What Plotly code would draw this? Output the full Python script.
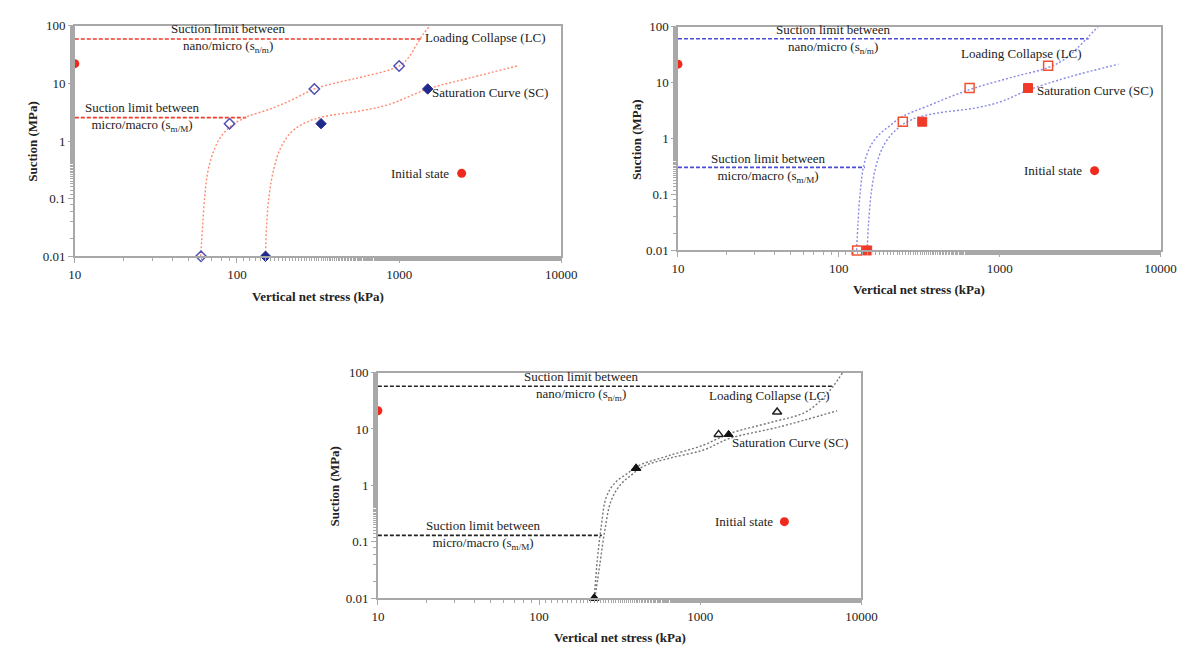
import plotly.graph_objects as go

# ---------------- data: panel A (diamonds) ----------------
a_lc_x = [60, 90, 300, 1000]
a_lc_y = [0.01, 2, 8, 20]
a_sc_x = [150, 330, 1500]
a_sc_y = [0.01, 2, 8]
a_lc_curve_x = [59.7, 61.3, 63.4, 66.1, 71.4, 79.1, 92.2, 116, 158, 216, 300, 444, 604, 1000, 1151, 1274, 1412, 1549]
a_lc_curve_y = [0.01, 0.0317, 0.117, 0.294, 0.644, 1.16, 1.84, 2.65, 3.54, 5.1, 8, 10.8, 13.1, 20, 28.8, 45.6, 72, 100]
a_sc_curve_x = [150, 152, 158, 169, 185, 216, 265, 343, 574, 867, 1500, 2693, 5383]
a_sc_curve_y = [0.01, 0.0317, 0.117, 0.335, 0.734, 1.42, 2.09, 2.65, 3.32, 4.31, 8, 12.3, 20.2]
a_nm_x = [10, 1380]
a_nm_y = [59, 59]
a_mM_x = [10, 114]
a_mM_y = [2.55, 2.55]
a_init_x = [10, 2430]
a_init_y = [22, 0.275]

# ---------------- data: panel B (squares) ----------------
b_lc_x = [130, 250, 650, 2000]
b_lc_y = [0.01, 2, 8, 20]
b_sc_x = [150, 330, 1500]
b_sc_y = [0.01, 2, 8]
b_lc_curve_x = [129, 131.5, 136, 143, 156, 175, 206, 250, 351, 650, 1197, 2010, 2529, 3126, 3573, 4085]
b_lc_curve_y = [0.01, 0.030, 0.115, 0.336, 0.70, 1.12, 1.67, 2.5, 3.75, 7.5, 12.5, 18.7, 26.2, 44.8, 66.9, 100]
b_sc_curve_x = [150, 153, 159.5, 171, 190, 223, 284, 412, 703, 1020, 1500, 2667, 5479]
b_sc_curve_y = [0.01, 0.030, 0.115, 0.336, 0.75, 1.37, 2.19, 2.86, 3.51, 4.58, 7.33, 12.5, 21.4]
b_nm_x = [10, 3570]
b_nm_y = [61, 61]
b_mM_x = [10, 145]
b_mM_y = [0.305, 0.305]
b_init_x = [10, 3890]
b_init_y = [21.4, 0.267]

# ---------------- data: panel C (triangles) ----------------
c_lc_x = [220, 400, 1300, 3000]
c_lc_y = [0.01, 2, 8, 20]
c_sc_x = [220, 400, 1500]
c_sc_y = [0.01, 2, 8]
c_lc_curve_x = [220, 230, 243, 261, 296, 357, 404, 611, 1047, 1510, 2754, 4466, 5686, 6686, 7656]
c_lc_curve_y = [0.01, 0.0483, 0.184, 0.61, 1.11, 1.66, 2.17, 3.24, 5.17, 8.24, 13.1, 19.6, 33.5, 57, 100]
c_sc_curve_x = [222, 239, 256, 280, 321, 377, 443, 645, 1047, 1510, 3070, 7063]
c_sc_curve_y = [0.01, 0.042, 0.161, 0.535, 1.04, 1.55, 2.17, 3.03, 4.23, 6.74, 10.8, 21]
c_nm_x = [10, 6690]
c_nm_y = [57, 57]
c_mM_x = [10, 245]
c_mM_y = [0.13, 0.13]
c_init_x = [10, 3330]
c_init_y = [21, 0.227]

x_tickvals = [10, 100, 1000, 10000]
x_ticktext = ["10", "100", "1000", "10000"]
y_tickvals = [0.01, 0.1, 1, 10, 100]
y_ticktext = ["0.01", "0.1", "1", "10", "100"]

FONT = "Liberation Serif, Times New Roman, serif"
RED = "#ee2a1e"

fig = go.Figure()


def add_panel(k, lc_x, lc_y, sc_x, sc_y, lcc_x, lcc_y, scc_x, scc_y,
              nm_x, nm_y, mM_x, mM_y, init_x, init_y,
              limit_color, curve_color, open_sym, fill_sym, open_col, fill_col, msize):
    xa = "x" if k == 1 else f"x{k}"
    ya = "y" if k == 1 else f"y{k}"
    common = dict(xaxis=xa, yaxis=ya, showlegend=False, hoverinfo="skip", cliponaxis=False)
    fig.add_trace(go.Scatter(x=nm_x, y=nm_y, mode="lines",
                             line=dict(color=limit_color, width=1.6, dash="4px,2px"), **common))
    fig.add_trace(go.Scatter(x=mM_x, y=mM_y, mode="lines",
                             line=dict(color=limit_color, width=1.6, dash="4px,2px"), **common))
    fig.add_trace(go.Scatter(x=lcc_x, y=lcc_y, mode="lines", line_shape="spline",
                             line=dict(color=curve_color, width=1.4, dash="2px,2px"), **common))
    fig.add_trace(go.Scatter(x=scc_x, y=scc_y, mode="lines", line_shape="spline",
                             line=dict(color=curve_color, width=1.4, dash="2px,2px"), **common))
    fig.add_trace(go.Scatter(x=lc_x, y=lc_y, mode="markers",
                             marker=dict(symbol=open_sym, size=msize, color=open_col,
                                         line=dict(color=open_col, width=1.5)), **common))
    fig.add_trace(go.Scatter(x=sc_x, y=sc_y, mode="markers",
                             marker=dict(symbol=fill_sym, size=msize, color=fill_col,
                                         line=dict(color=fill_col, width=1)), **common))
    fig.add_trace(go.Scatter(x=init_x, y=init_y, mode="markers",
                             marker=dict(symbol="circle", size=9, color=RED), **common))


add_panel(1, a_lc_x, a_lc_y, a_sc_x, a_sc_y, a_lc_curve_x, a_lc_curve_y, a_sc_curve_x, a_sc_curve_y,
          a_nm_x, a_nm_y, a_mM_x, a_mM_y, a_init_x, a_init_y,
          "#f03a2a", "#ff8a70", "diamond-open", "diamond", "#5050b0", "#1f2a8a", 8)
add_panel(2, b_lc_x, b_lc_y, b_sc_x, b_sc_y, b_lc_curve_x, b_lc_curve_y, b_sc_curve_x, b_sc_curve_y,
          b_nm_x, b_nm_y, b_mM_x, b_mM_y, b_init_x, b_init_y,
          "#4b4bd6", "#8a8ae6", "square-open", "square", "#f05030", "#f03a28", 9)
add_panel(3, c_lc_x, c_lc_y, c_sc_x, c_sc_y, c_lc_curve_x, c_lc_curve_y, c_sc_curve_x, c_sc_curve_y,
          c_nm_x, c_nm_y, c_mM_x, c_mM_y, c_init_x, c_init_y,
          "#222222", "#777777", "triangle-up-open", "triangle-up", "#222222", "#111111", 8)

W, H = 1195, 648
domains = {
    1: ([61 / W, 557 / W], [1 - 247 / H, 1 - 11 / H]),
    2: ([676 / W, 1168 / W], [1 - 241 / H, 1 - 12 / H]),
    3: ([370 / W, 863 / W], [1 - 597 / H, 1 - 366 / H]),
}

axis_common = dict(showgrid=False, zeroline=False, showline=True, linecolor="#a8a8a8", linewidth=1.5,
                   mirror=True, ticks="outside", ticklen=5, tickcolor="#a8a8a8", tickwidth=1,
                   tickfont=dict(family=FONT, size=13, color="#222"),
                   minor=dict(ticks="outside", ticklen=3, tickcolor="#a8a8a8", showgrid=False))

layout = dict(width=W, height=H, margin=dict(l=0, r=0, t=0, b=0),
              paper_bgcolor="white", plot_bgcolor="white", showlegend=False)
for k, (dx, dy) in domains.items():
    xn = "xaxis" if k == 1 else f"xaxis{k}"
    yn = "yaxis" if k == 1 else f"yaxis{k}"
    ya = "y" if k == 1 else f"y{k}"
    xa = "x" if k == 1 else f"x{k}"
    layout[xn] = dict(type="log", range=[1, 4], domain=dx, anchor=ya,
                      tickvals=x_tickvals, ticktext=x_ticktext, **axis_common)
    layout[yn] = dict(type="log", range=[-2, 2], domain=dy, anchor=xa,
                      tickvals=y_tickvals, ticktext=y_ticktext, **axis_common)
fig.update_layout(**layout)

TXT = dict(family=FONT, size=13, color="#222")
BOLD = dict(family=FONT, size=13, color="#222", weight="bold")

labels = [
    # (panel, x_log, y_log, text)
    (1, 1.95, 1.78, "Suction limit between<br>nano/micro (s<sub>n/m</sub>)"),
    (1, 1.418, 0.415, "Suction limit between<br>micro/macro (s<sub>m/M</sub>)"),
    (1, 3.532, 1.789, "Loading Collapse (LC)"),
    (1, 3.559, 0.845, "Saturation Curve (SC)"),
    (1, 3.13, -0.56, "Initial state"),
    (2, 1.966, 1.776, "Suction limit between<br>nano/micro (s<sub>n/m</sub>)"),
    (2, 1.561, -0.524, "Suction limit between<br>micro/macro (s<sub>m/M</sub>)"),
    (2, 3.134, 1.523, "Loading Collapse (LC)"),
    (2, 3.593, 0.859, "Saturation Curve (SC)"),
    (2, 3.333, -0.573, "Initial state"),
    (3, 2.261, 1.762, "Suction limit between<br>nano/micro (s<sub>n/m</sub>)"),
    (3, 1.654, -0.875, "Suction limit between<br>micro/macro (s<sub>m/M</sub>)"),
    (3, 3.428, 1.594, "Loading Collapse (LC)"),
    (3, 3.557, 0.759, "Saturation Curve (SC)"),
    (3, 3.27, -0.638, "Initial state"),
]
for k, xl, yl, t in labels:
    xa = "x" if k == 1 else f"x{k}"
    ya = "y" if k == 1 else f"y{k}"
    fig.add_annotation(x=xl, y=yl, xref=xa, yref=ya, text=t, showarrow=False,
                       xanchor="center", yanchor="middle", font=TXT, align="center")

titles = [
    (309, 288, "Vertical net stress (kPa)", 0),
    (17, 129, "Suction (MPa)", -90),
    (922, 281, "Vertical net stress (kPa)", 0),
    (633, 127, "Suction (MPa)", -90),
    (617, 637, "Vertical net stress (kPa)", 0),
    (326, 482, "Suction (MPa)", -90),
]
for px, py, t, ang in titles:
    fig.add_annotation(x=px / W, y=1 - py / H, xref="paper", yref="paper", text=t, showarrow=False,
                       xanchor="center", yanchor="middle", textangle=ang, font=BOLD)

fig.write_html("out.html")
